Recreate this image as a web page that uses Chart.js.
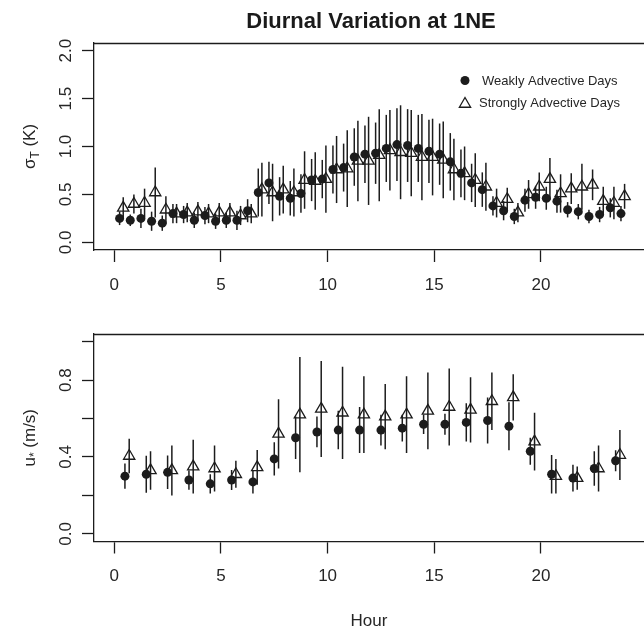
<!DOCTYPE html>
<html>
<head>
<meta charset="utf-8">
<script src="https://cdn.jsdelivr.net/npm/chart.js@4/dist/chart.umd.min.js"></script>
<style>
html, body { margin: 0; padding: 0; background: #fff; overflow: hidden; }
#wrap { position: relative; width: 644px; height: 632px; }
canvas { position: absolute; left: 0; }
</style>
</head>
<body>
<div id="wrap">
  <canvas id="sigmaChart" width="644" height="300" style="top:0"></canvas>
  <canvas id="ustarChart" width="644" height="332" style="top:300px"></canvas>
</div>
<script>
// half-hourly sigma_T (top) and hourly u* (bottom), mean +/- sd
var hoursHalf = [0.25, 0.75, 1.25, 1.75, 2.25, 2.75, 3.25, 3.75, 4.25, 4.75, 5.25, 5.75,
  6.25, 6.75, 7.25, 7.75, 8.25, 8.75, 9.25, 9.75, 10.25, 10.75, 11.25, 11.75,
  12.25, 12.75, 13.25, 13.75, 14.25, 14.75, 15.25, 15.75, 16.25, 16.75, 17.25, 17.75,
  18.25, 18.75, 19.25, 19.75, 20.25, 20.75, 21.25, 21.75, 22.25, 22.75, 23.25, 23.75];

var sigmaWeak = [0.25, 0.23, 0.25, 0.22, 0.20, 0.30, 0.29, 0.23, 0.28, 0.22, 0.23, 0.23,
  0.33, 0.52, 0.62, 0.48, 0.46, 0.51, 0.65, 0.66, 0.76, 0.78, 0.89, 0.92,
  0.93, 0.98, 1.02, 1.01, 0.98, 0.95, 0.92, 0.84, 0.72, 0.62, 0.55, 0.38,
  0.33, 0.27, 0.44, 0.47, 0.46, 0.43, 0.34, 0.32, 0.27, 0.29, 0.36, 0.30];
var sigmaWeakSd = [0.07, 0.06, 0.10, 0.10, 0.08, 0.10, 0.09, 0.08, 0.09, 0.08, 0.08, 0.10,
  0.12, 0.25, 0.22, 0.20, 0.18, 0.20, 0.22, 0.20, 0.25, 0.25, 0.30, 0.30,
  0.32, 0.35, 0.38, 0.38, 0.35, 0.33, 0.32, 0.30, 0.25, 0.20, 0.18, 0.10,
  0.10, 0.08, 0.12, 0.12, 0.12, 0.12, 0.08, 0.08, 0.07, 0.08, 0.10, 0.08];

var sigmaStrong = [0.36, 0.40, 0.41, 0.52, 0.34, 0.30, 0.31, 0.32, 0.30, 0.31, 0.31, 0.28,
  0.30, 0.55, 0.52, 0.55, 0.52, 0.65, 0.64, 0.66, 0.76, 0.77, 0.85, 0.85,
  0.91, 0.96, 0.94, 0.93, 0.89, 0.89, 0.86, 0.76, 0.72, 0.65, 0.58, 0.41,
  0.45, 0.31, 0.50, 0.58, 0.66, 0.51, 0.56, 0.58, 0.60, 0.43, 0.41, 0.48];
var sigmaStrongSd = [0.11, 0.10, 0.15, 0.26, 0.14, 0.10, 0.10, 0.10, 0.10, 0.10, 0.10, 0.10,
  0.10, 0.28, 0.30, 0.25, 0.25, 0.30, 0.30, 0.35, 0.35, 0.40, 0.42, 0.46,
  0.48, 0.42, 0.49, 0.45, 0.45, 0.40, 0.40, 0.32, 0.28, 0.28, 0.25, 0.15,
  0.12, 0.10, 0.15, 0.15, 0.22, 0.20, 0.16, 0.24, 0.16, 0.15, 0.17, 0.13];

var hoursFull = [0.5, 1.5, 2.5, 3.5, 4.5, 5.5, 6.5, 7.5, 8.5, 9.5, 10.5, 11.5,
  12.5, 13.5, 14.5, 15.5, 16.5, 17.5, 18.5, 19.5, 20.5, 21.5, 22.5, 23.5];

var ustarWeak = [0.30, 0.31, 0.32, 0.28, 0.26, 0.28, 0.27, 0.39, 0.50, 0.53, 0.54, 0.54,
  0.54, 0.55, 0.57, 0.57, 0.58, 0.59, 0.56, 0.43, 0.31, 0.29, 0.34, 0.38];
var ustarWeakSd = [0.066, 0.096, 0.087, 0.05, 0.05, 0.052, 0.06, 0.087, 0.11, 0.08, 0.10, 0.12,
  0.08, 0.07, 0.05, 0.055, 0.10, 0.12, 0.125, 0.07, 0.10, 0.07, 0.09, 0.055];

var ustarStrong = [0.405, 0.33, 0.33, 0.35, 0.34, 0.31, 0.346, 0.52, 0.62, 0.65, 0.63, 0.62,
  0.61, 0.62, 0.64, 0.66, 0.645, 0.69, 0.71, 0.48, 0.30, 0.29, 0.34, 0.41];
var ustarStrongSd = [0.09, 0.10, 0.13, 0.14, 0.12, 0.07, 0.09, 0.18, 0.30, 0.25, 0.24, 0.20,
  0.17, 0.20, 0.20, 0.20, 0.17, 0.15, 0.12, 0.15, 0.09, 0.06, 0.12, 0.13];

var sigmaLabels = [0.0, 0.5, 1.0, 1.5, 2.0];
var ustarLabels = [0.0, 0.4, 0.8];

var INK = '#1c1c1c';
var TXT = '#262626';
var FONT = '"Liberation Sans", Arial, Helvetica, sans-serif';

function pts(xs, ys, sd, shift) {
  return xs.map(function (h, i) { return { x: h + shift, y: ys[i], sd: sd[i] }; });
}

function drawTriangle(ctx, x, y, r) {
  ctx.beginPath();
  ctx.moveTo(x, y - r);
  ctx.lineTo(x + 0.866 * r, y + 0.5 * r);
  ctx.lineTo(x - 0.866 * r, y + 0.5 * r);
  ctx.closePath();
  ctx.stroke();
}

// error bars, top frame line, vertical y labels, y title, main title, legend
var rPlot = {
  id: 'rPlot',
  afterDraw: function (chart, args, o) {
    var ctx = chart.ctx, a = chart.chartArea;
    var xs = chart.scales.x, ys = chart.scales.y;
    ctx.save();

    ctx.beginPath();
    ctx.rect(a.left, a.top, a.right - a.left, a.bottom - a.top);
    ctx.save();
    ctx.clip();
    ctx.strokeStyle = INK;
    ctx.lineWidth = 1.5;
    chart.data.datasets.forEach(function (ds) {
      ds.data.forEach(function (p) {
        var px = xs.getPixelForValue(p.x);
        ctx.beginPath();
        ctx.moveTo(px, ys.getPixelForValue(p.y - p.sd));
        ctx.lineTo(px, ys.getPixelForValue(p.y + p.sd));
        ctx.stroke();
      });
    });
    ctx.restore();

    ctx.strokeStyle = INK;
    ctx.lineWidth = 1.3;
    ctx.beginPath();
    ctx.moveTo(a.left - 0.6, a.top + 0.5);
    ctx.lineTo(a.right, a.top + 0.5);
    ctx.stroke();

    ctx.fillStyle = TXT;
    ctx.font = '17px ' + FONT;
    ctx.textAlign = 'center';
    ctx.textBaseline = 'middle';
    o.yLabels.forEach(function (v) {
      ctx.save();
      ctx.translate(66, ys.getPixelForValue(v));
      ctx.rotate(-Math.PI / 2);
      ctx.fillText(v.toFixed(1), 0, 0);
      ctx.restore();
    });

    // axis title with a lowered subscript
    ctx.save();
    ctx.translate(29, (a.top + a.bottom) / 2);
    ctx.rotate(-Math.PI / 2);
    ctx.textAlign = 'left';
    ctx.textBaseline = 'alphabetic';
    var w = 0;
    o.yTitle.forEach(function (p) { ctx.font = p[1] + 'px ' + FONT; w += ctx.measureText(p[0]).width; });
    var cx = -w / 2;
    o.yTitle.forEach(function (p) {
      ctx.font = p[1] + 'px ' + FONT;
      ctx.fillText(p[0], cx, 6 + p[2]);
      cx += ctx.measureText(p[0]).width;
    });
    ctx.restore();

    if (o.title) {
      ctx.font = 'bold 22px ' + FONT;
      ctx.textAlign = 'center';
      ctx.textBaseline = 'middle';
      ctx.fillStyle = '#1a1a1a';
      ctx.fillText(o.title, (a.left + a.right) / 2 + 2, 22);
    }

    if (o.legend) {
      var ds0 = chart.data.datasets[0], ds1 = chart.data.datasets[1];
      ctx.fillStyle = INK;
      ctx.beginPath();
      ctx.arc(465, 80.5, 4.5, 0, Math.PI * 2);
      ctx.fill();
      ctx.strokeStyle = INK;
      ctx.lineWidth = 1.3;
      drawTriangle(ctx, 465, 104, 6.5);
      ctx.fillStyle = TXT;
      ctx.font = '13px ' + FONT;
      ctx.textAlign = 'left';
      ctx.textBaseline = 'middle';
      ctx.fillText(ds0.label, 482, 81);
      ctx.fillText(ds1.label, 479, 103);
    }
    ctx.restore();
  }
};

function axisX(height, withTitle) {
  return {
    type: 'linear', min: -0.95, max: 24.83,
    afterFit: function (s) { s.height = height; },
    ticks: { stepSize: 5, includeBounds: false, maxRotation: 0, autoSkip: false, padding: 13,
      color: TXT, font: { family: FONT, size: 17 } },
    grid: { drawOnChartArea: false, drawTicks: true, tickLength: 12, tickColor: INK, tickWidth: 1.3 },
    border: { display: true, color: INK, width: 1.3 },
    title: { display: withTitle, text: 'Hour', color: TXT, font: { family: FONT, size: 17 }, padding: 0 }
  };
}

function axisY(min, max, step) {
  return {
    type: 'linear', min: min, max: max,
    afterFit: function (s) { s.width = 94; },
    ticks: { stepSize: step, includeBounds: false, display: false },
    grid: { drawOnChartArea: false, drawTicks: true, tickLength: 12, tickColor: INK, tickWidth: 1.3 },
    border: { display: true, color: INK, width: 1.3 }
  };
}

function seriesPair(hours, weak, weakSd, strong, strongSd, shift) {
  return [{
    label: 'Weakly Advective Days',
    data: pts(hours, weak, weakSd, 0),
    pointStyle: 'circle', pointRadius: 4.5,
    backgroundColor: INK, borderColor: INK, borderWidth: 0
  }, {
    label: 'Strongly Advective Days',
    data: pts(hours, strong, strongSd, shift),
    pointStyle: 'triangle', pointRadius: 6.5,
    backgroundColor: 'rgba(0,0,0,0)', borderColor: INK, borderWidth: 1.3
  }];
}

new Chart(document.getElementById('sigmaChart'), {
  type: 'scatter',
  data: { datasets: seriesPair(hoursHalf, sigmaWeak, sigmaWeakSd, sigmaStrong, sigmaStrongSd, 0.17) },
  options: {
    responsive: false, animation: false, events: [],
    layout: { autoPadding: false, padding: { top: 43, left: 0, right: 0, bottom: 0 } },
    scales: { x: axisX(50, false), y: axisY(-0.08, 2.08, 0.5) },
    plugins: {
      legend: { display: false }, tooltip: { enabled: false },
      rPlot: { yLabels: sigmaLabels, yTitle: [['\u03c3', 17, 0], ['T', 12, 4], [' (K)', 17, 0]],
        title: 'Diurnal Variation at 1NE', legend: true }
    }
  },
  plugins: [rPlot]
});

new Chart(document.getElementById('ustarChart'), {
  type: 'scatter',
  data: { datasets: seriesPair(hoursFull, ustarWeak, ustarWeakSd, ustarStrong, ustarStrongSd, 0.2) },
  options: {
    responsive: false, animation: false, events: [],
    layout: { autoPadding: false, padding: { top: 34, left: 0, right: 0, bottom: 0 } },
    scales: { x: axisX(90.5, true), y: axisY(-0.04, 1.04, 0.2) },
    plugins: {
      legend: { display: false }, tooltip: { enabled: false },
      rPlot: { yLabels: ustarLabels, yTitle: [['u', 17, 0], ['*', 12, 3], [' (m/s)', 17, 0]],
        title: null, legend: false }
    }
  },
  plugins: [rPlot]
});
</script>
</body>
</html>
